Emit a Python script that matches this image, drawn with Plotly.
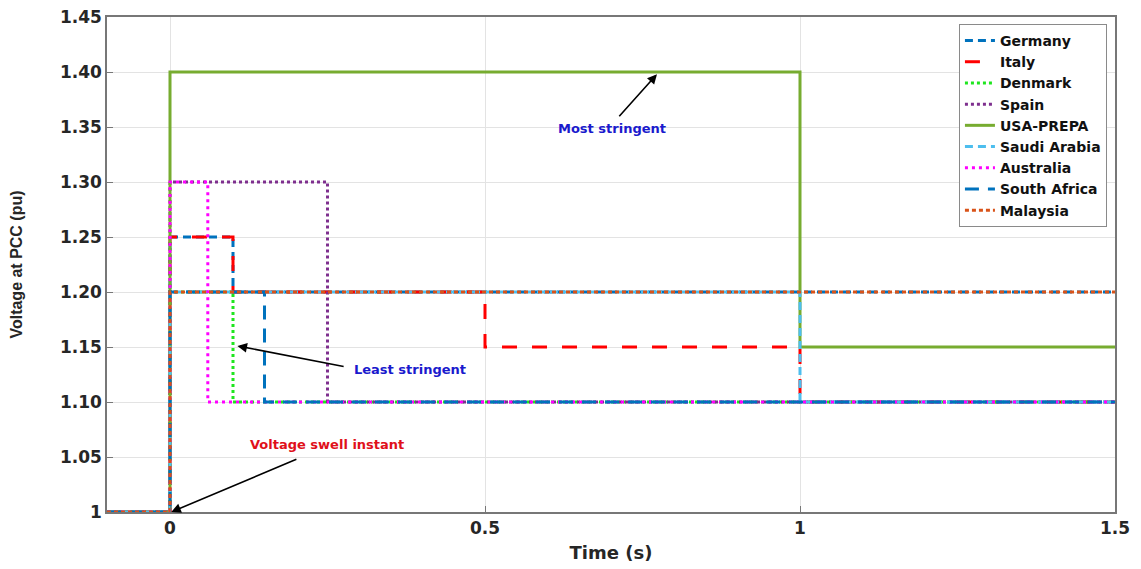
import plotly.graph_objects as go

# ---- data (time breakpoints in s, voltage in pu) ----
countries = ["Germany", "Italy", "Denmark", "Spain", "USA-PREPA",
             "Saudi Arabia", "Australia", "South Africa", "Malaysia"]
germany_t = [-0.1, 0, 0.1, 1.5]
germany_v = [1.0, 1.25, 1.2, 1.2]
italy_t = [-0.1, 0, 0.1, 0.5, 1.0, 1.5]
italy_v = [1.0, 1.25, 1.2, 1.15, 1.1, 1.1]
denmark_t = [-0.1, 0, 0.1, 1.5]
denmark_v = [1.0, 1.2, 1.1, 1.1]
spain_t = [-0.1, 0, 0.25, 1.5]
spain_v = [1.0, 1.3, 1.1, 1.1]
usa_t = [-0.1, 0, 1.0, 1.5]
usa_v = [1.0, 1.4, 1.15, 1.15]
saudi_t = [-0.1, 0, 1.0, 1.5]
saudi_v = [1.0, 1.2, 1.1, 1.1]
australia_t = [-0.1, 0, 0.06, 1.5]
australia_v = [1.0, 1.3, 1.1, 1.1]
safrica_t = [-0.1, 0, 0.15, 1.5]
safrica_v = [1.0, 1.2, 1.1, 1.1]
malaysia_t = [-0.1, 0, 1.5]
malaysia_v = [1.0, 1.2, 1.2]

x_ticks = [0, 0.5, 1, 1.5]
x_labels = ["0", "0.5", "1", "1.5"]
y_ticks = [1.0, 1.05, 1.1, 1.15, 1.2, 1.25, 1.3, 1.35, 1.4, 1.45]
y_labels = ["1", "1.05", "1.10", "1.15", "1.20", "1.25", "1.30", "1.35", "1.40", "1.45"]

series = [
    (germany_t, germany_v, "#0072BD", "8px,5px"),
    (italy_t, italy_v, "#FF0000", "15px,15px"),
    (denmark_t, denmark_v, "#1EE61E", "3px,3px"),
    (spain_t, spain_v, "#7E2F8E", "3px,3px"),
    (usa_t, usa_v, "#77AC30", "solid"),
    (saudi_t, saudi_v, "#4DBEEE", "8px,5px"),
    (australia_t, australia_v, "#FF00FF", "3px,4px"),
    (safrica_t, safrica_v, "#0072BD", "14px,9px"),
    (malaysia_t, malaysia_v, "#D95319", "4px,3px"),
]

fig = go.Figure()
for name, (t, v, c, d) in zip(countries, series):
    fig.add_trace(go.Scatter(x=t, y=v, mode="lines", name="<b>%s</b>" % name,
                             line=dict(shape="hv", color=c, dash=d, width=3)))

wide = "DejaVu Sans, Verdana, sans-serif"
narrow = "Liberation Sans, Arial, sans-serif"

annots = [
    dict(x=0.773, y=1.398, tx=0.702, ty=1.3485, text="<b>Most stringent</b>", color="#1A1ACD", tail=(0.711, 1.3584)),
    dict(x=0.107, y=1.151, tx=0.381, ty=1.1293, text="<b>Least stringent</b>", color="#1A1ACD", tail=(0.278, 1.132)),
    dict(x=0.002, y=1.0, tx=0.249, ty=1.061, text="<b>Voltage swell instant</b>", color="#E0101A", tail=(0.203, 1.0485)),
]
for a in annots:
    fig.add_annotation(x=a["tx"], y=a["ty"], text=a["text"], showarrow=False,
                       font=dict(family=wide, size=13, color=a["color"]))
    fig.add_annotation(x=a["x"], y=a["y"], ax=a["tail"][0], ay=a["tail"][1],
                       axref="x", ayref="y", xref="x", yref="y", text="",
                       showarrow=True, arrowhead=2, arrowsize=1.2, arrowwidth=1.6,
                       arrowcolor="black")

fig.update_layout(
    width=1141, height=569,
    margin=dict(l=99, r=34, t=9, b=65),
    paper_bgcolor="white", plot_bgcolor="white",
    font=dict(family=wide, color="#262626"),
    legend=dict(x=0.992, y=0.986, xanchor="right", yanchor="top",
                bgcolor="white", bordercolor="#8a8a8a", borderwidth=1,
                font=dict(family=wide, size=14, color="#111111"),
                tracegroupgap=0, itemwidth=30),
    showlegend=True,
)
fig.update_xaxes(range=[-0.1, 1.5], tickvals=x_ticks, ticktext=["<b>%s</b>" % s for s in x_labels],
                 tickfont=dict(family=wide, size=17, color="#262626"), automargin=False,
                 ticklabeloverflow="allow",
                 title=dict(text="<b>Time (s)</b>", font=dict(family=wide, size=18, color="#262626"), standoff=9),
                 showgrid=True, gridcolor="#E3E3E3", gridwidth=1,
                 showline=True, linecolor="#777777", linewidth=1.5, mirror=True,
                 ticks="inside", ticklen=6, tickcolor="#777777", zeroline=False)
fig.update_yaxes(range=[1.0, 1.45], tickvals=y_ticks, ticktext=["<b>%s</b>" % s for s in y_labels],
                 tickfont=dict(family=wide, size=17, color="#262626"), automargin=False,
                 ticklabeloverflow="allow",
                 title=dict(text="<b>Voltage at PCC (pu)</b>", font=dict(family=narrow, size=16, color="#262626"), standoff=38),
                 showgrid=True, gridcolor="#E3E3E3", gridwidth=1,
                 showline=True, linecolor="#777777", linewidth=1.5, mirror=True,
                 ticks="inside", ticklen=6, tickcolor="#777777", zeroline=False)

fig.write_html("out.html")
